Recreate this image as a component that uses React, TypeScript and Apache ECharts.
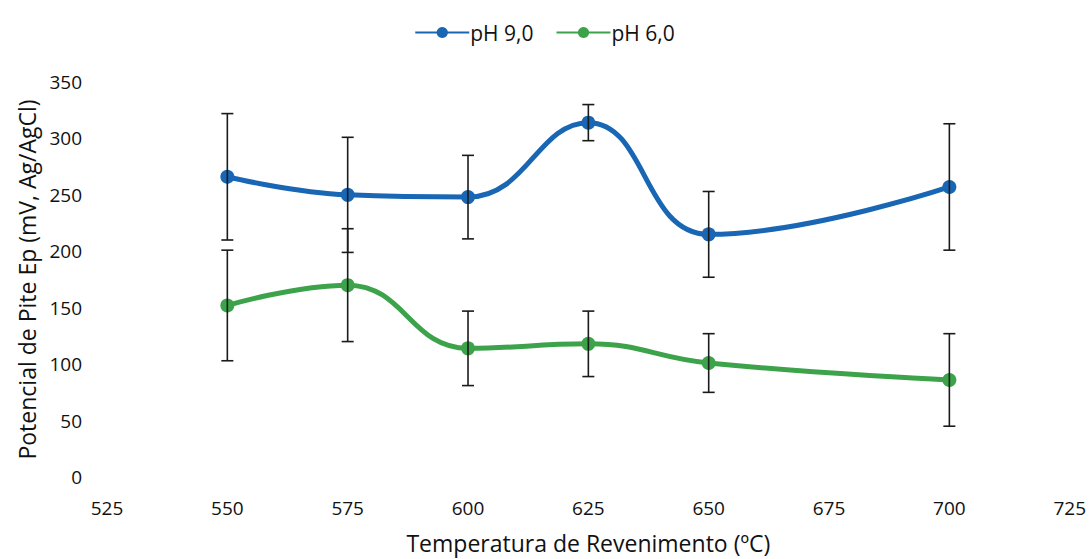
import React, { useEffect, useRef } from "react";
import * as echarts from "echarts";

const temps = [550, 575, 600, 625, 650, 700];
const ph9 = [266, 250, 248, 314, 215, 257];
const ph9Err = [56, 51, 37, 16, 38, 56];
const ph6 = [152, 170, 114, 118, 101, 86];
const ph6Err = [49, 50, 33, 29, 26, 41];
const xTicks = { min: 525, max: 725, interval: 25 };
const yTicks = { min: 0, max: 350, interval: 50 };

const BLUE = "#1866b4";
const GREEN = "#3da34b";
const FONT = "'Open Sans', 'Noto Sans', sans-serif";

function errData(vals: number[], errs: number[]) {
  return temps.map((t, i) => [t, vals[i] - errs[i], vals[i] + errs[i]]);
}

function renderErr(params: any, api: any) {
  const x = api.value(0);
  const lo = api.coord([x, api.value(1)]);
  const hi = api.coord([x, api.value(2)]);
  const cap = 6;
  const style = { stroke: "#1a1a1a", lineWidth: 1.6 };
  return {
    type: "group",
    children: [
      { type: "line", shape: { x1: lo[0], y1: lo[1], x2: hi[0], y2: hi[1] }, style },
      { type: "line", shape: { x1: hi[0] - cap, y1: hi[1], x2: hi[0] + cap, y2: hi[1] }, style },
      { type: "line", shape: { x1: lo[0] - cap, y1: lo[1], x2: lo[0] + cap, y2: lo[1] }, style },
    ],
  };
}

export default function App() {
  const ref = useRef<HTMLDivElement>(null);
  useEffect(() => {
    document.body.style.margin = "0";
    const chart = echarts.init(ref.current!, null, { renderer: "svg" });
    chart.setOption({
      animation: false,
      textStyle: { fontFamily: FONT },
      legend: {
        top: 17,
        left: "center",
        itemWidth: 54,
        itemHeight: 14,
        itemGap: 22,
        textStyle: { fontSize: 21, color: "#111", fontFamily: FONT, padding: [0, 0, 0, -4] },
        data: ["pH 9,0", "pH 6,0"],
      },
      grid: { left: 107, right: 19, top: 82, bottom: 80 },
      xAxis: {
        type: "value",
        min: xTicks.min,
        max: xTicks.max,
        interval: xTicks.interval,
        name: "Temperatura de Revenimento (ºC)",
        nameLocation: "middle",
        nameGap: 54,
        nameTextStyle: { fontSize: 23, color: "#111", fontFamily: FONT },
        axisLine: { show: false },
        axisTick: { show: false },
        splitLine: { show: false },
        axisLabel: { fontSize: 19, color: "#111", margin: 21, fontFamily: FONT },
      },
      yAxis: {
        type: "value",
        min: yTicks.min,
        max: yTicks.max,
        interval: yTicks.interval,
        name: "Potencial de Pite Ep (mV, Ag/AgCl)",
        nameLocation: "middle",
        nameGap: 64,
        nameTextStyle: { fontSize: 23, color: "#111", fontFamily: FONT },
        axisLine: { show: false },
        axisTick: { show: false },
        splitLine: { show: false },
        axisLabel: { fontSize: 19, color: "#111", margin: 25, fontFamily: FONT },
      },
      series: [
        {
          name: "pH 9,0",
          type: "line",
          data: temps.map((t, i) => [t, ph9[i]]),
          smooth: 0.45,
          symbol: "circle",
          symbolSize: 14,
          lineStyle: { color: BLUE, width: 5 },
          itemStyle: { color: BLUE },
          z: 3,
        },
        {
          name: "pH 6,0",
          type: "line",
          data: temps.map((t, i) => [t, ph6[i]]),
          smooth: 0.45,
          symbol: "circle",
          symbolSize: 14,
          lineStyle: { color: GREEN, width: 5 },
          itemStyle: { color: GREEN },
          z: 3,
        },
        {
          type: "custom",
          name: "err9",
          data: errData(ph9, ph9Err),
          renderItem: renderErr,
          encode: { x: 0, y: [1, 2] },
          z: 4,
          silent: true,
        },
        {
          type: "custom",
          name: "err6",
          data: errData(ph6, ph6Err),
          renderItem: renderErr,
          encode: { x: 0, y: [1, 2] },
          z: 4,
          silent: true,
        },
      ],
    });
    return () => chart.dispose();
  }, []);
  return <div ref={ref} style={{ width: 1089, height: 559 }} />;
}
